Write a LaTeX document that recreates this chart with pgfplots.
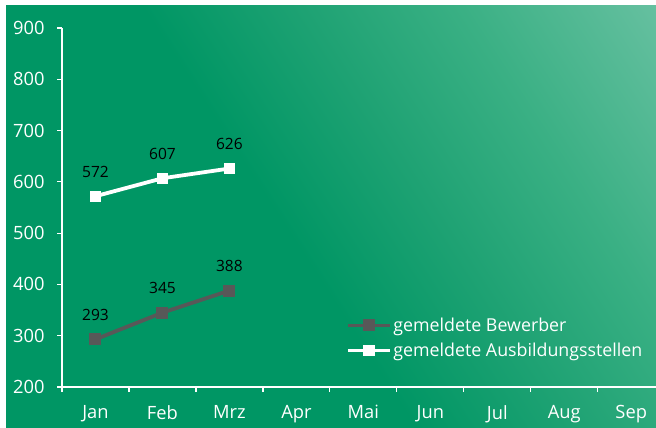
\documentclass[border=0pt]{standalone}
\usepackage{pgfplots}
\pgfplotsset{compat=1.18}
\usepackage{fontspec}
\setmainfont{Open Sans}
\definecolor{c0}{RGB}{0,150,100}
\definecolor{c1}{RGB}{30,162,115}
\definecolor{c2}{RGB}{58,176,132}
\definecolor{c3}{RGB}{102,192,160}
\definecolor{greyline}{RGB}{88,88,88}
\pgfdeclarehorizontalshading{bgshade}{100bp}{color(0bp)=(c0); color(46bp)=(c0); color(58bp)=(c1); color(70bp)=(c2); color(85bp)=(c3); color(100bp)=(c3)}
\pgfplotsset{/pgf/number format/assume math mode=true}
\newcommand{\ticfont}{\fontsize{18.3bp}{22bp}\selectfont}
\newcommand{\legfont}{\fontsize{17.8bp}{21.5bp}\selectfont}
\newcommand{\labfont}{\fontsize{15.5bp}{18bp}\selectfont}
\begin{document}
\begin{tikzpicture}[x=1bp,y=1bp]
\path[use as bounding box] (0,0) rectangle (656,427);
\fill[white] (0,0) rectangle (656,427);
\shade[shading=bgshade, shading angle=33] (6,0) rectangle (656,421);
\begin{axis}[
  at={(62bp,40bp)}, anchor=south west,
  width=594bp, height=359bp, scale only axis,
  xmin=-0.5, xmax=8.37, ymin=200, ymax=900,
  axis x line*=bottom, axis y line*=left,
  axis line style={draw=white, line width=2.2bp, -},
  xtick={0,...,8},
  xticklabels={Jan,Feb,Mrz,Apr,Mai,Jun,Jul,Aug,Sep},
  minor xtick={-0.5,0.5,...,7.5},
  ytick={200,300,...,900},
  tick align=outside,
  major tick length=5bp,
  every major tick/.append style={draw=white, line width=1.2bp},
  every minor tick/.append style={draw=white, line width=1.2bp},
  x tick style={draw=none},
  minor x tick style={draw=white, line width=1.2bp},
  minor tick length=5bp,
  ticklabel style={font=\ticfont, text=white},
  y tick label style={xshift=-9bp},
  x tick label style={yshift=-10bp},
  legend style={at={(0.478,0.1365)}, anchor=west, draw=none, fill=none,
    font=\legfont, text=white, row sep=7bp, inner sep=0pt,
    nodes={inner sep=1.5bp}},
  legend cell align=left,
  legend image code/.code={
    \draw[mark repeat=2, mark phase=2] plot coordinates {(0bp,0bp) (21bp,0bp) (42bp,0bp)};
  },
  nodes near coords,
  nodes near coords style={font=\labfont, text=black, anchor=base, yshift=19bp},
  clip=false,
]
\addplot[color=greyline, line width=3.8bp, mark=square*, mark size=5.5bp, mark options={fill=greyline, line width=0pt}]
  coordinates {(0,293) (1,345) (2,388)};
\addlegendentry{gemeldete Bewerber}
\addplot[color=white, line width=3.8bp, mark=square*, mark size=5.2bp, mark options={fill=white, line width=0pt}]
  coordinates {(0,572) (1,607) (2,626)};
\addlegendentry{gemeldete Ausbildungsstellen}
\end{axis}
\end{tikzpicture}
\end{document}
